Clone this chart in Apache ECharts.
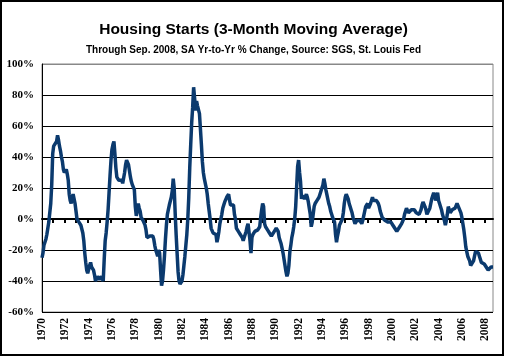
<!DOCTYPE html>
<html>
<head>
<meta charset="utf-8">
<script src="https://cdn.jsdelivr.net/npm/echarts@6/dist/echarts.min.js"></script>
<style>
html,body{margin:0;padding:0;background:#fff;}
#chart{width:507px;height:358px;}
</style>
</head>
<body>
<div id="chart"></div>
<script>
// Monthly data, Jan 1970 .. Sep 2008 (yr-to-yr % change, 3-mo moving avg)
var startYear = 1970;
var values = [
/*1970*/ -25,-22,-17,-16,-13,-10,-6,-2,4,10,22,42,
/*1971*/ 47,48,46,50,54,51,47,44,40,37,32,30,
/*1972*/ 31,32,29,25,16,12,10,14,16,13,10,5,
/*1973*/ 0,-1,-2,-3,-4,-5,-9,-14,-22,-28,-33,-35,
/*1974*/ -34,-30,-28,-31,-32,-33,-36,-40,-39,-37,-38,-39,
/*1975*/ -40,-37,-36,-40,-26,-14,-9,-2,6,17,28,38,
/*1976*/ 45,48,50,42,33,27,26,25,26,24,25,23,
/*1977*/ 24,30,35,38,37,35,31,27,24,22,21,19,
/*1978*/ 8,2,5,10,7,5,1,0,-1,-2,-4,-7,
/*1979*/ -12,-13,-12,-11,-10,-10,-11,-13,-17,-20,-22,-24,
/*1980*/ -20,-22,-33,-43,-40,-33,-24,-13,-4,3,6,9,
/*1981*/ 9,14,18,26,20,4,-10,-22,-34,-40,-42,-42,
/*1982*/ -40,-36,-30,-24,-17,-10,0,14,33,48,62,72,
/*1983*/ 85,78,70,76,73,74,68,58,48,37,30,26,
/*1984*/ 23,20,16,10,5,0,-6,-7,-9,-8,-8,-10,
/*1985*/ -15,-12,-8,-3,0,3,7,9,11,12,14,15,
/*1986*/ 16,12,9,8,9,9,3,0,-6,-7,-8,-9,
/*1987*/ -10,-11,-12,-14,-12,-10,-8,-5,-3,-2,-14,-22,
/*1988*/ -12,-10,-9,-8,-8,-7,-7,-6,-5,1,6,10,
/*1989*/ 8,-3,-5,-6,-7,-8,-9,-10,-11,-12,-10,-8,
/*1990*/ -7,-6,-6,-8,-12,-14,-16,-19,-22,-26,-30,-34,
/*1991*/ -37,-35,-30,-21,-17,-12,-9,-5,0,8,21,34,
/*1992*/ 38,30,24,13,15,14,13,14,16,14,11,7,
/*1993*/ 3,-5,-2,3,8,10,11,12,13,14,16,17,
/*1994*/ 20,22,26,23,19,16,13,10,8,5,3,1,
/*1995*/ 0,-2,-10,-15,-11,-8,-4,-4,-5,0,4,10,
/*1996*/ 14,16,15,13,10,8,6,4,1,-1,-3,-2,
/*1997*/ -1,0,0,-1,-2,-3,-1,2,5,8,9,10,
/*1998*/ 7,6,10,12,14,12,11,12,12,11,10,8,
/*1999*/ 5,3,1,0,0,-1,-1,0,-2,-3,-2,-2,
/*2000*/ -3,-4,-5,-6,-7,-8,-8,-7,-5,-4,-3,-2,
/*2001*/ 0,3,5,7,6,4,4,5,6,6,7,6,
/*2002*/ 5,4,5,4,3,4,6,9,11,10,8,6,
/*2003*/ 3,2,4,7,10,13,15,17,15,12,14,17,
/*2004*/ 12,10,9,6,3,1,-1,-4,-1,3,8,6,
/*2005*/ 4,4,6,6,7,7,6,10,9,7,6,4,
/*2006*/ 1,-3,-7,-12,-18,-21,-24,-25,-27,-30,-31,-31,
/*2007*/ -27,-24,-21,-20,-20,-22,-24,-26,-28,-29,-28,-29,
/*2008*/ -30,-31,-32,-33,-32,-32,-31,-32,-31
];
var yTicks = [-60, -40, -20, 0, 20, 40, 60, 80, 100];
var tickYears = ['1970','1972','1974','1976','1978','1980','1982','1984','1986','1988','1990','1992','1994','1996','1998','2000','2002','2004','2006','2008'];

var months = [];
for (var i = 0; i < values.length; i++) {
  var y = startYear + Math.floor(i / 12);
  var m = (i % 12) + 1;
  months.push(y + '-' + (m < 10 ? '0' + m : m));
}

var chart = echarts.init(document.getElementById('chart'), null, {renderer: 'canvas'});
var splitColors = yTicks.map(function (v, i) { return i === yTicks.length - 1 ? '#888' : '#000'; });

chart.setOption({
  animation: false,
  backgroundColor: '#fff',
  title: [
    {text: 'Housing Starts (3-Month Moving Average)', left: 'center', top: 17,
     textStyle: {fontFamily: 'Liberation Sans', fontSize: 15.5, fontWeight: 'bold', color: '#000'}},
    {text: 'Through Sep. 2008, SA Yr-to-Yr % Change, Source: SGS, St. Louis Fed', left: 'center', top: 40,
     textStyle: {fontFamily: 'Liberation Sans', fontSize: 10, fontWeight: 'bold', color: '#000'}}
  ],
  grid: {left: 42, right: 14, top: 64, bottom: 46, show: true, borderColor: '#888', borderWidth: 1, backgroundColor: '#fff'},
  xAxis: [
    {type: 'category', data: months, boundaryGap: false, position: 'bottom',
     axisLine: {show: true, onZero: true, lineStyle: {color: '#000', width: 2}},
     axisTick: {show: true, interval: function (idx) { return idx % 12 === 11; }, length: 4, inside: false, lineStyle: {color: '#000', width: 2}},
     axisLabel: {show: false}, splitLine: {show: false}},
    {type: 'category', data: months, boundaryGap: false, position: 'bottom',
     axisLine: {show: false, onZero: false}, axisTick: {show: false}, splitLine: {show: false},
     axisLabel: {show: true, rotate: 90, margin: 6,
       interval: function (idx) { return idx % 24 === 0 && tickYears.indexOf(months[idx].slice(0, 4)) >= 0; },
       formatter: function (v) { return v.slice(0, 4); },
       fontFamily: 'Liberation Serif', fontWeight: 'bold', fontSize: 11.5, color: '#000'}}
  ],
  yAxis: {
    type: 'value', min: -60, max: 100, interval: 20,
    axisLine: {show: true, onZero: false, lineStyle: {color: '#000', width: 1}},
    axisTick: {show: false},
    axisLabel: {formatter: '{value}%', margin: 8, fontFamily: 'Liberation Serif', fontWeight: 'bold', fontSize: 11, color: '#000'},
    splitLine: {show: true, lineStyle: {color: splitColors, width: 1}}
  },
  series: [{
    type: 'line', data: values, xAxisIndex: 0, showSymbol: false, symbol: 'none',
    lineStyle: {color: '#0b3a6e', width: 3.5}, z: 3
  }],
  graphic: [{
    type: 'rect', shape: {x: 1, y: 1, width: 502, height: 354}, silent: true, z: 100,
    style: {fill: 'none', stroke: '#000', lineWidth: 2}
  }]
});
</script>
</body>
</html>
